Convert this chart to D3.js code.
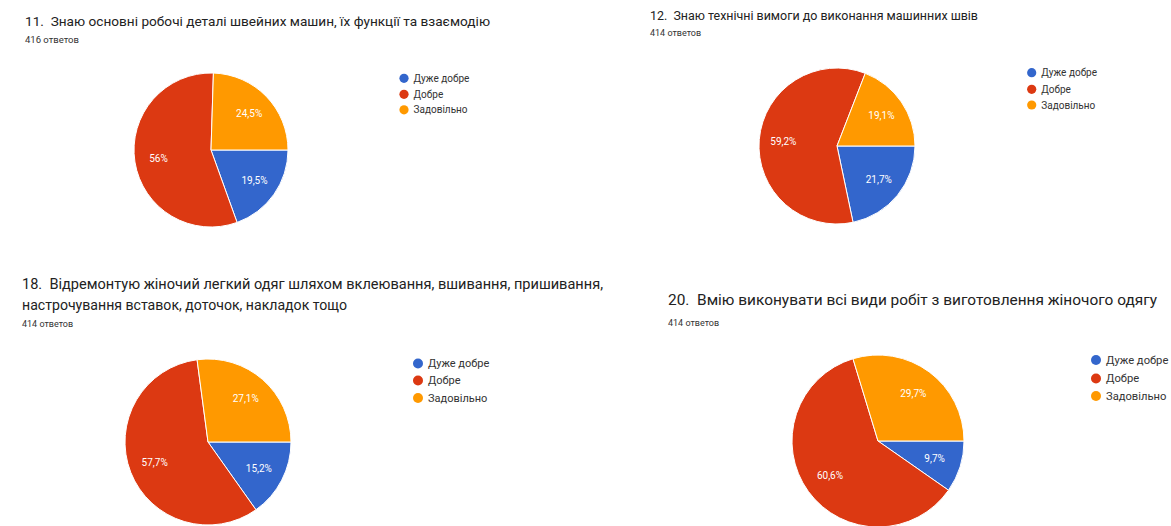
<!DOCTYPE html>
<html>
<head>
<meta charset="utf-8">
<script src="https://cdn.jsdelivr.net/npm/d3@7/dist/d3.min.js"></script>
<style>
  html, body { margin: 0; padding: 0; background: #ffffff; }
  svg { display: block; font-family: Roboto, "Noto Sans", Arial, sans-serif; }
  text { white-space: pre; }
</style>
</head>
<body>
<svg id="chart" width="1171" height="526"></svg>
<script>
// ---------- DATA ----------
const categories = ["Дуже добре", "Добре", "Задовільно"];
const colors = ["#3366cc", "#dc3912", "#ff9900"];

const values11 = [19.5, 56.0, 24.5];
const values12 = [21.7, 59.2, 19.1];
const values18 = [15.2, 57.7, 27.1];
const values20 = [9.7, 60.6, 29.7];

const labels11 = ["19,5%", "56%", "24,5%"];
const labels12 = ["21,7%", "59,2%", "19,1%"];
const labels18 = ["15,2%", "57,7%", "27,1%"];
const labels20 = ["9,7%", "60,6%", "29,7%"];

const titles11 = ["11.  Знаю основні робочі деталі швейних машин, їх функції та взаємодію"];
const titles12 = ["12.  Знаю технічні вимоги до виконання машинних швів"];
const titles18 = ["18.  Відремонтую жіночий легкий одяг шляхом вклеювання, вшивання, пришивання,",
                  "настрочування вставок, доточок, накладок тощо"];
const titles20 = ["20.  Вмію виконувати всі види робіт з виготовлення жіночого одягу"];

const answers11 = "416 ответов";
const answers12 = "414 ответов";
const answers18 = "414 ответов";
const answers20 = "414 ответов";

// ---------- LAYOUT (positions / sizes only) ----------
const panels = [
  { values: values11, labels: labels11, titles: titles11, answers: answers11,
    tx: 25, tBase: [25.5], tSize: 13.5, tLen: [465], aBase: 43, aSize: 9.5,
    cx: 211, cy: 150, r: 77,
    lx: 404, ly: [78.3, 94.3, 109.8], lSize: 10, lr: 4.6 },
  { values: values12, labels: labels12, titles: titles12, answers: answers12,
    tx: 650, tBase: [20], tSize: 12.5, tLen: [328], aBase: 36, aSize: 9,
    cx: 837, cy: 146, r: 78,
    lx: 1031.7, ly: [72.7, 89.3, 105], lSize: 10, lr: 4.6 },
  { values: values18, labels: labels18, titles: titles18, answers: answers18,
    tx: 22, tBase: [289, 310], tSize: 14.5, tLen: [581, 325], aBase: 327, aSize: 9,
    cx: 208, cy: 442, r: 83,
    lx: 418, ly: [363.5, 380.5, 398], lSize: 11, lr: 5 },
  { values: values20, labels: labels20, titles: titles20, answers: answers20,
    tx: 668, tBase: [305], tSize: 14.5, tLen: [489], aBase: 326, aSize: 9,
    cx: 878, cy: 441, r: 86,
    lx: 1096, ly: [360, 378.5, 396], lSize: 11.2, lr: 5 }
];

const svg = d3.select("#chart");

const pie = d3.pie()
  .sort(null)
  .value(d => d)
  .startAngle(Math.PI / 2)
  .endAngle(Math.PI / 2 + 2 * Math.PI);

panels.forEach(p => {
  const g = svg.append("g");

  // titles
  p.titles.forEach((t, i) => {
    g.append("text")
      .attr("x", p.tx).attr("y", p.tBase[i])
      .attr("font-size", p.tSize)
      .attr("fill", "#222222")
      .attr("textLength", p.tLen[i])
      .attr("lengthAdjust", "spacingAndGlyphs")
      .text(t);
  });
  g.append("text")
    .attr("x", p.tx).attr("y", p.aBase)
    .attr("font-size", p.aSize)
    .attr("fill", "#333333")
    .text(p.answers);

  // pie
  const arc = d3.arc().innerRadius(0).outerRadius(p.r);
  const labelArc = d3.arc().innerRadius(p.r * 0.69).outerRadius(p.r * 0.69);
  const arcs = pie(p.values);
  const pg = g.append("g").attr("transform", `translate(${p.cx},${p.cy})`);
  pg.selectAll("path").data(arcs).join("path")
    .attr("d", arc)
    .attr("fill", (d, i) => colors[i])
    .attr("stroke", "#ffffff")
    .attr("stroke-width", 1);
  pg.selectAll("text").data(arcs).join("text")
    .attr("transform", d => `translate(${labelArc.centroid(d)})`)
    .attr("text-anchor", "middle")
    .attr("dy", "0.35em")
    .attr("font-size", 10)
    .attr("fill", "#ffffff")
    .text((d, i) => p.labels[i]);

  // legend
  const lg = g.append("g");
  categories.forEach((c, i) => {
    lg.append("circle")
      .attr("cx", p.lx).attr("cy", p.ly[i]).attr("r", p.lr)
      .attr("fill", colors[i]);
    lg.append("text")
      .attr("x", p.lx + p.lr + 5).attr("y", p.ly[i])
      .attr("dy", "0.35em")
      .attr("font-size", p.lSize)
      .attr("fill", "#333333")
      .text(c);
  });
});
</script>
</body>
</html>
